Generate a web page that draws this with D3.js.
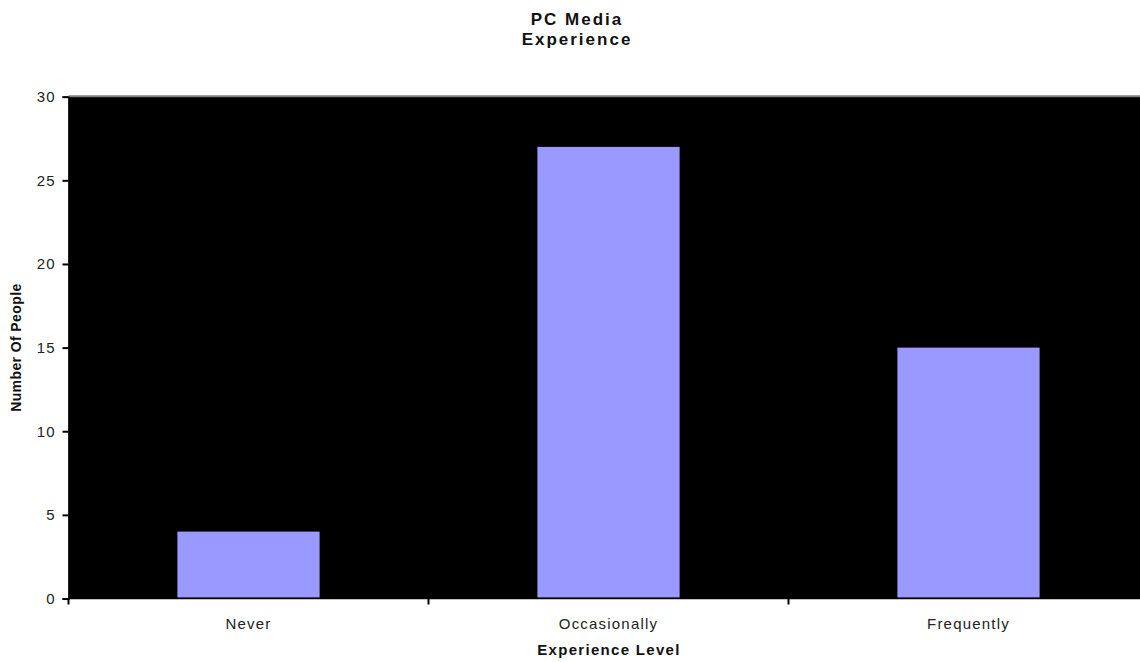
<!DOCTYPE html>
<html>
<head>
<meta charset="utf-8">
<script src="https://cdn.jsdelivr.net/npm/d3@7"></script>
<style>
  html, body { margin: 0; padding: 0; background: #fff; }
  svg { display: block; font-family: "Liberation Sans", Arial, sans-serif; }
</style>
</head>
<body>
<svg id="chart" width="1140" height="662"></svg>
<script>
const titleLines = ["PC Media", "Experience"];
const categories = ["Never", "Occasionally", "Frequently"];
const values = [4, 27, 15];
const yTicks = [0, 5, 10, 15, 20, 25, 30];
const xAxisTitle = "Experience Level";
const yAxisTitle = "Number Of People";

const svg = d3.select("#chart");
const W = 1140, H = 662;
const plot = { left: 68.5, right: 1148.5, top: 96.7, bottom: 598.5 };

const x = d3.scaleBand().domain(categories).range([plot.left, plot.right]).padding(0);
const y = d3.scaleLinear().domain([0, 30]).range([plot.bottom, plot.top]);
const barW = x.bandwidth() * 0.395;

// plot background
svg.append("rect")
  .attr("x", plot.left).attr("y", y(30))
  .attr("width", plot.right - plot.left).attr("height", y(0) - y(30))
  .attr("fill", "#000");

// top gray border
svg.append("line")
  .attr("x1", plot.left).attr("x2", W)
  .attr("y1", y(30) - 0.5).attr("y2", y(30) - 0.5)
  .attr("stroke", "#808080").attr("stroke-width", 2);

// bars
svg.append("g").selectAll("rect")
  .data(categories.map((c, i) => ({ c, v: values[i] })))
  .join("rect")
  .attr("x", d => x(d.c) + x.bandwidth() / 2 - barW / 2)
  .attr("y", d => y(d.v))
  .attr("width", barW)
  .attr("height", d => y(0) - y(d.v) - 1)
  .attr("fill", "#9999ff");

// y axis
const yAxis = d3.axisLeft(y).tickValues(yTicks).tickSize(6).tickPadding(7).tickFormat(d3.format("d"));
const gy = svg.append("g").attr("transform", `translate(${plot.left},0)`).call(yAxis);
gy.select(".domain").attr("stroke", "#000").attr("stroke-width", 1.5);
gy.selectAll(".tick line").attr("stroke", "#000").attr("stroke-width", 2);
gy.selectAll(".tick text")
  .attr("font-size", 15).attr("fill", "#222")
  .style("letter-spacing", "1px")
  .attr("font-family", "'Liberation Sans', Arial, sans-serif");

// x axis: ticks at band boundaries
const gx = svg.append("g").attr("transform", `translate(0,${plot.bottom})`);
gx.append("line")
  .attr("x1", plot.left).attr("x2", W)
  .attr("y1", 0).attr("y2", 0)
  .attr("stroke", "#000").attr("stroke-width", 1.5);
gx.selectAll("line.tk")
  .data(categories)
  .join("line").attr("class", "tk")
  .attr("x1", d => x(d)).attr("x2", d => x(d))
  .attr("y1", 0).attr("y2", 6)
  .attr("stroke", "#000").attr("stroke-width", 2);
gx.selectAll("text")
  .data(categories)
  .join("text")
  .attr("x", d => x(d) + x.bandwidth() / 2)
  .attr("y", 30.5)
  .attr("text-anchor", "middle")
  .attr("font-size", 15).attr("fill", "#222")
  .style("letter-spacing", "1.2px")
  .text(d => d);

// title
svg.append("g").selectAll("text")
  .data(titleLines)
  .join("text")
  .attr("x", 577)
  .attr("y", (d, i) => 25 + i * 20)
  .attr("text-anchor", "middle")
  .attr("font-size", 17).attr("font-weight", "bold").attr("fill", "#111")
  .style("letter-spacing", "2px")
  .text(d => d);

// x axis title
svg.append("text")
  .attr("x", 609).attr("y", 654.5)
  .attr("text-anchor", "middle")
  .attr("font-size", 15).attr("font-weight", "bold").attr("fill", "#111")
  .style("letter-spacing", "1.3px")
  .text(xAxisTitle);

// y axis title
svg.append("text")
  .attr("transform", `translate(20.5,${(plot.top + plot.bottom) / 2}) rotate(-90)`)
  .attr("text-anchor", "middle")
  .attr("font-size", 14).attr("font-weight", "bold").attr("fill", "#111")
  .style("letter-spacing", "0.4px")
  .text(yAxisTitle);
</script>
</body>
</html>
